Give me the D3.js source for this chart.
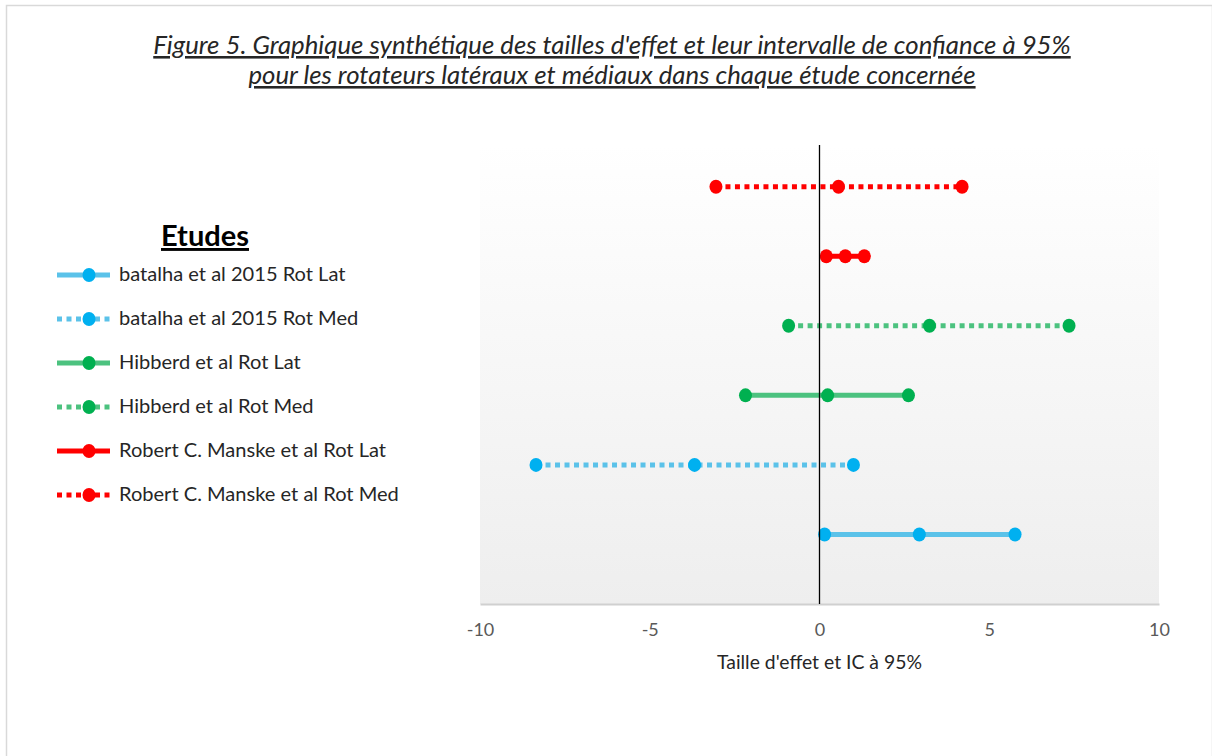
<!DOCTYPE html>
<html>
<head>
<meta charset="utf-8">
<script src="https://cdn.jsdelivr.net/npm/d3@7"></script>
<style>
  body { margin: 0; background: #fff; }
  text { font-family: Lato, "Open Sans", sans-serif; }
</style>
</head>
<body>
<div id="chart"></div>
<script>
// Données (de haut en bas dans le graphique)
const studies = [
    "batalha et al 2015 Rot Lat",
    "batalha et al 2015 Rot Med",
    "Hibberd et al Rot Lat",
    "Hibberd et al Rot Med",
    "Robert C. Manske et al Rot Lat",
    "Robert C. Manske et al Rot Med"
]
const rowPos = [1, 2, 3, 4, 5, 6]          // position verticale de chaque étude
const lowCI  = [0.15, -8.35, -2.18, -0.91, 0.20, -3.05]
const effect = [2.94, -3.68, 0.24, 3.24, 0.76, 0.56]
const highCI = [5.76, 1.00, 2.62, 7.35, 1.32, 4.20]
const dotted = [false, true, false, true, false, true]
const lineColors   = ["#5bc2e9", "#5bc2e9", "#4cc27f", "#4cc27f", "#ff0000", "#ff0000"]
const markerColors = ["#00b0f0", "#00b0f0", "#00b050", "#00b050", "#ff0000", "#ff0000"]
const xTicks = [-10, -5, 0, 5, 10]

const width = 1212
const height = 756
const plot = { left: 480, right: 1159, top: 145, bottom: 604 }

const svg = d3.select("div#chart").append("svg")
    .attr("width", width)
    .attr("height", height)

// cadre du graphique
svg.append("rect")
    .attr("x", 6.5).attr("y", 5.5)
    .attr("width", width - 6).attr("height", height - 4)
    .attr("fill", "#fff").attr("stroke", "#d9d9d9").attr("stroke-width", 1.5)

// fond en dégradé de la zone de traçage
const grad = svg.append("defs").append("linearGradient")
    .attr("id", "bg").attr("x1", 0).attr("y1", 0).attr("x2", 0).attr("y2", 1)
grad.append("stop").attr("offset", "0%").attr("stop-color", "#ffffff")
grad.append("stop").attr("offset", "100%").attr("stop-color", "#eeeeee")

svg.append("rect")
    .attr("x", plot.left).attr("y", plot.top)
    .attr("width", plot.right - plot.left).attr("height", plot.bottom - plot.top)
    .attr("fill", "url(#bg)")

const scaleX = d3.scaleLinear().domain([-10, 10]).range([plot.left, plot.right])
const scaleY = d3.scaleLinear().domain([0, 6.6]).range([plot.bottom, plot.top])

// axe x (tirets simples comme dans Excel)
const xAxis = d3.axisBottom(scaleX).tickValues(xTicks).tickSize(0).tickPadding(19)
    .tickFormat(d => String(d))
const xAxisGroup = svg.append("g")
    .attr("transform", `translate(0 ${plot.bottom})`)
    .call(xAxis)
xAxisGroup.select(".domain").attr("stroke", "#d0d0d0").attr("stroke-width", 2)
xAxisGroup.selectAll("text")
    .attr("fill", "#595959")
    .style("font-size", "18px")
    .style("font-family", "Lato, sans-serif")

const xTitle = svg.append("text")
    .text("Taille d'effet et IC à 95%")
    .attr("x", (plot.left + plot.right) / 2)
    .attr("y", 669)
    .attr("text-anchor", "middle")
    .attr("fill", "#262626")
    .style("font-size", "16px")
const wt = xTitle.node().getComputedTextLength()
xTitle.style("font-size", (16 * 205 / wt) + "px")

// séries : une ligne + trois marqueurs par étude
const data = studies.map((s, i) => ({
    name: s, y: rowPos[i], vals: [lowCI[i], effect[i], highCI[i]],
    dotted: dotted[i], line: lineColors[i], marker: markerColors[i]
}))

const series = svg.append("g").selectAll("g").data(data).join("g")
series.append("line")
    .attr("x1", d => scaleX(d.vals[0]))
    .attr("x2", d => scaleX(d.vals[2]))
    .attr("y1", d => scaleY(d.y))
    .attr("y2", d => scaleY(d.y))
    .attr("stroke", d => d.line)
    .attr("stroke-width", 5)
    .attr("stroke-dasharray", d => d.dotted ? "5,4.5" : null)
series.selectAll("ellipse").data(d => d.vals.map(v => ({ v: v, d: d }))).join("ellipse")
    .attr("cx", p => scaleX(p.v))
    .attr("cy", p => scaleY(p.d.y))
    .attr("rx", 6.5).attr("ry", 7)
    .attr("fill", p => p.d.marker)

// ligne du zéro
svg.append("line")
    .attr("x1", scaleX(0)).attr("x2", scaleX(0))
    .attr("y1", plot.top).attr("y2", plot.bottom)
    .attr("stroke", "#000").attr("stroke-width", 1.3)

// titre
const titleLines = [
    "Figure 5. Graphique synthétique des tailles d'effet et leur intervalle de confiance à 95%",
    "pour les rotateurs latéraux et médiaux dans chaque étude concernée"
]
const titleG = svg.append("g")
titleG.selectAll("text").data(titleLines).join("text")
    .text(d => d)
    .attr("x", 612)
    .attr("y", (d, i) => 54 + i * 30)
    .attr("text-anchor", "middle")
    .attr("fill", "#262626")
    .style("font-style", "italic")
    .style("text-decoration", "underline")
    .style("font-size", "22px")
// ajuster la taille pour que la première ligne fasse ~918 px
const w0 = titleG.select("text").node().getComputedTextLength()
titleG.selectAll("text").style("font-size", (22 * 918 / w0) + "px")

// légende
const legend = svg.append("g")
const legTitle = legend.append("text")
    .text("Etudes")
    .attr("x", 205).attr("y", 246)
    .attr("text-anchor", "middle")
    .attr("fill", "#000")
    .style("font-weight", "bold")
    .style("text-decoration", "underline")
    .style("font-size", "20px")
const we = legTitle.node().getComputedTextLength()
legTitle.style("font-size", (20 * 88 / we) + "px")

const legendOrder = [0, 1, 2, 3, 4, 5]
const items = legend.selectAll("g.item").data(legendOrder.map(i => data[i])).join("g")
    .attr("class", "item")
    .attr("transform", (d, i) => `translate(0 ${275 + i * 44})`)
items.append("line")
    .attr("x1", 57).attr("x2", 110).attr("y1", 0).attr("y2", 0)
    .attr("stroke", d => d.line).attr("stroke-width", 5)
    .attr("stroke-dasharray", d => d.dotted ? "5,4.5" : null)
items.append("ellipse")
    .attr("cx", 89).attr("cy", 0).attr("rx", 6.5).attr("ry", 7)
    .attr("fill", d => d.marker)
items.append("text")
    .text(d => d.name)
    .attr("x", 119).attr("y", 6)
    .attr("fill", "#262626")
    .style("font-size", "17px")
const wl = d3.max(items.selectAll("text").nodes(), n => n.getComputedTextLength())
items.selectAll("text").style("font-size", (17 * 280 / wl) + "px")
</script>
</body>
</html>
